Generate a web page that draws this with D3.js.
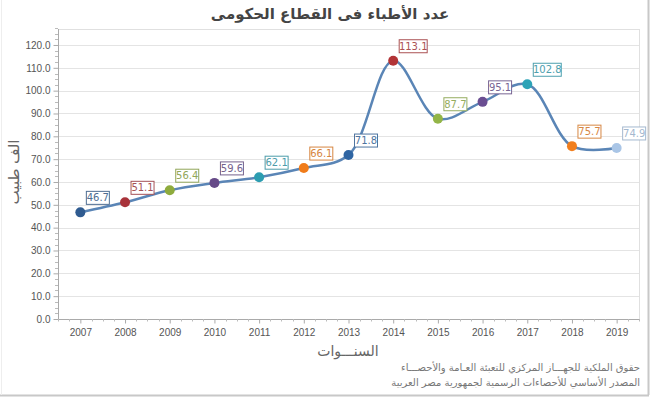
<!DOCTYPE html>
<html><head><meta charset="utf-8">
<script src="https://cdn.jsdelivr.net/npm/d3@7"></script>
<style>
body{margin:0;background:#fff;}
svg{display:block;font-family:Tahoma,"DejaVu Sans",sans-serif;}
</style></head>
<body>
<svg id="c" width="650" height="397"></svg>
<script>
const years = ["2007","2008","2009","2010","2011","2012","2013","2014","2015","2016","2017","2018","2019"];
const doctors = [46.7,51.1,56.4,59.6,62.1,66.1,71.8,113.1,87.7,95.1,102.8,75.7,74.9];
const pointColors = ["#2f5b90","#a8333a","#8eab3d","#664a88","#2c9db1","#f07c1a","#2f65a3","#b23336","#93b547","#6a4e92","#2ca3b7","#f17f1f","#a9c5e6"];
const yTicks = [0,10,20,30,40,50,60,70,80,90,100,110,120];
const title = "عدد الأطباء فى القطاع الحكومى";
const xTitle = "السنـــوات";
const yTitle = "الف طبيب";
const footer = ["حقوق الملكية للجهـــاز المركزي للتعبئة العـامة والأحصـــاء","المصدر الأساسي للأحصاءات الرسمية لجمهورية مصر العربية"];

const svg = d3.select("#c");
const L = 58, R = 639, T = 29, B = 319;
const y = d3.scaleLinear().domain([0,127]).range([B,T]);
const x = d3.scalePoint().domain(years).range([L,R]).padding(0.5);
const step = x.step();

// outer frame
svg.append("line").attr("x1",648.5).attr("x2",648.5).attr("y1",0).attr("y2",395).attr("stroke","#c8c8c8").attr("stroke-width",2);
svg.append("line").attr("x1",0).attr("x2",649).attr("y1",395.5).attr("y2",395.5).attr("stroke","#c8c8c8").attr("stroke-width",2);
svg.append("line").attr("x1",1.5).attr("x2",1.5).attr("y1",0).attr("y2",395).attr("stroke","#eeeeee");

// title
svg.append("text").attr("x",330).attr("y",19).attr("text-anchor","middle")
  .attr("font-size",15).attr("font-weight","bold").attr("fill","#444").attr("direction","rtl").text(title);

// gridlines
svg.append("g").selectAll("line").data(yTicks.filter(d=>d>0)).join("line")
  .attr("x1",L).attr("x2",R).attr("y1",d=>Math.round(y(d))+0.5).attr("y2",d=>Math.round(y(d))+0.5)
  .attr("stroke","#e4e4e4");
// plot frame top/right
svg.append("line").attr("x1",L).attr("x2",R).attr("y1",T+0.5).attr("y2",T+0.5).attr("stroke","#e0e0e0");
svg.append("line").attr("x1",R+0.5).attr("x2",R+0.5).attr("y1",T).attr("y2",B).attr("stroke","#e0e0e0");

// y axis
const yAxis = svg.append("g").attr("transform",`translate(${L+0.5},0)`)
  .call(d3.axisLeft(y).tickValues(yTicks).tickFormat(d3.format(".1f")).tickSize(5).tickSizeOuter(0));
yAxis.select(".domain").attr("stroke","#aaa").attr("d",`M0,${T}V${B}`);
yAxis.selectAll(".tick line").attr("stroke","#aaa");
yAxis.selectAll(".tick text").attr("font-size",10).attr("fill","#555").attr("x",-8);
// y minor ticks
const yMinor = d3.range(0,128,2.5).filter(v=>v%10!==0);
svg.append("g").selectAll("line").data(yMinor).join("line")
  .attr("x1",L-3).attr("x2",L).attr("y1",d=>Math.round(y(d))+0.5).attr("y2",d=>Math.round(y(d))+0.5).attr("stroke","#bbb");

// x axis
const xAxis = svg.append("g").attr("transform",`translate(0,${B+0.5})`)
  .call(d3.axisBottom(x).tickSize(4).tickSizeOuter(0));
xAxis.select(".domain").attr("stroke","#aaa").attr("d",`M${L},0H${R}`);
xAxis.selectAll(".tick line").attr("stroke","#aaa");
xAxis.selectAll(".tick text").attr("font-size",10).attr("fill","#555").attr("y",9);
// x minor ticks
const xMinor = [];
years.forEach((yr,i)=>{ [-0.5,-0.25,0.25].forEach(f=>xMinor.push(x(yr)+f*step)); });
xMinor.push(R);
svg.append("g").selectAll("line").data(xMinor).join("line")
  .attr("x1",d=>Math.round(d)+0.5).attr("x2",d=>Math.round(d)+0.5).attr("y1",B).attr("y2",B+2.5).attr("stroke","#bbb");

// axis titles
svg.append("text").attr("transform",`translate(19,172) rotate(-90)`).attr("text-anchor","middle")
  .attr("font-size",15).attr("fill","#666").attr("direction","rtl").text(yTitle);
svg.append("text").attr("x",348).attr("y",356).attr("text-anchor","middle")
  .attr("font-size",14).attr("fill","#666").attr("direction","rtl").text(xTitle);

// footer
svg.append("g").selectAll("text").data(footer).join("text")
  .attr("x",640).attr("y",(d,i)=>371+i*15).attr("text-anchor","start").attr("direction","rtl")
  .attr("font-size",10).attr("fill","#777").text(d=>d);

// line
const data = years.map((yr,i)=>({yr, v:doctors[i], c:pointColors[i]}));
svg.append("path").datum(data)
  .attr("d", d3.line().x(d=>x(d.yr)).y(d=>y(d.v)).curve(d3.curveCatmullRom.alpha(0.5)))
  .attr("fill","none").attr("stroke","#5a85b6").attr("stroke-width",2.5);

// points
svg.append("g").selectAll("circle").data(data).join("circle")
  .attr("cx",d=>x(d.yr)).attr("cy",d=>y(d.v)).attr("r",5).attr("fill",d=>d.c);

// labels
const soft = c => d3.interpolateRgb(c, "#999")(0.3);
const lab = svg.append("g").selectAll("g").data(data).join("g")
  .attr("transform",d=>`translate(${x(d.yr)+6},${y(d.v)-9})`);
lab.append("rect").attr("x",0).attr("y",-12).attr("width",23).attr("height",13)
  .attr("fill","#fff").attr("stroke",d=>soft(d.c)).attr("stroke-width",1);
lab.append("text").attr("x",11.5).attr("y",-2).attr("text-anchor","middle")
  .attr("font-size",10).attr("fill",d=>soft(d.c)).text(d=>d3.format(".1f")(d.v));
lab.filter(d=>d.v>=100).select("rect").attr("width",28);
lab.filter(d=>d.v>=100).select("text").attr("x",14);
</script>
</body></html>
